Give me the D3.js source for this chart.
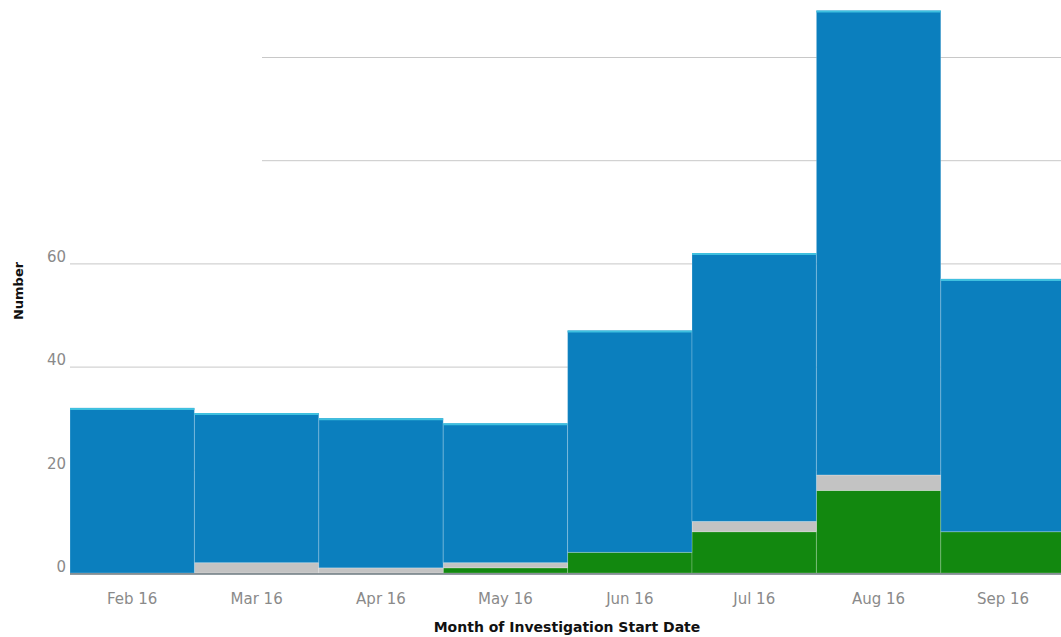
<!DOCTYPE html>
<html>
<head>
<meta charset="utf-8">
<script src="https://cdn.jsdelivr.net/npm/d3@7"></script>
<style>
  body { margin: 0; background: #fff; }
  svg { display: block; }
</style>
</head>
<body>
<script>
// data
const months = ["Feb 16", "Mar 16", "Apr 16", "May 16", "Jun 16", "Jul 16", "Aug 16", "Sep 16"];
const greenVals = [0, 0, 0, 1, 4, 8, 16, 8];
const grayVals = [0, 2, 1, 1, 0, 2, 3, 0];
const blueVals = [32, 29, 29, 27, 43, 52, 90, 49];
const yTicks = [0, 20, 40, 60, 80, 100];

const width = 1061, height = 637;
const left = 70, zeroY = 573;

const rows = months.map((m, i) => ({ month: m, green: greenVals[i], gray: grayVals[i], blue: blueVals[i] }));
const keys = ["green", "gray", "blue"];
const colors = { green: "#12880f", gray: "#c3c3c3", blue: "#0b7fbe" };

const svg = d3.select("body").append("svg")
  .attr("width", width)
  .attr("height", height);

const x = d3.scaleBand()
  .domain(months)
  .range([left, left + 124.4 * months.length])
  .padding(0);

const y = d3.scaleLinear()
  .domain([0, 100])
  .range([zeroY, 57]);

// gridlines + y labels
const yAxis = svg.append("g")
  .attr("transform", `translate(${left},0)`)
  .call(d3.axisLeft(y).tickValues(yTicks).tickSize(-(width - left)).tickPadding(4));
yAxis.select(".domain").remove();
yAxis.selectAll(".tick line").attr("stroke", "#c8c8c8");
yAxis.selectAll(".tick text")
  .attr("dy", "-0.12em")
  .attr("fill", "#8a8a8a")
  .style("font-family", "DejaVu Sans, Verdana, sans-serif")
  .style("font-size", "15px");

// blank area top-left (legend area in the original)
svg.append("rect")
  .attr("x", 0).attr("y", 0)
  .attr("width", 262).attr("height", 215)
  .attr("fill", "#fff");

// Bars
const series = d3.stack().keys(keys)(rows);

svg.append("g").selectAll("g")
  .data(series)
  .enter()
  .append("g")
  .attr("fill", d => colors[d.key])
  .selectAll("rect")
  .data(d => d.filter(p => p[1] > p[0]))
  .enter()
  .append("rect")
  .attr("x", d => x(d.data.month))
  .attr("y", d => y(d[1]))
  .attr("width", x.bandwidth())
  .attr("height", d => y(d[0]) - y(d[1]))
  .attr("stroke", "rgba(255,255,255,0.22)")
  .attr("stroke-width", 1);

// cyan top edge on each bar
svg.append("g").selectAll("line")
  .data(rows)
  .enter()
  .append("line")
  .attr("x1", d => x(d.month))
  .attr("x2", d => x(d.month) + x.bandwidth())
  .attr("y1", d => y(d.green + d.gray + d.blue) + 1)
  .attr("y2", d => y(d.green + d.gray + d.blue) + 1)
  .attr("stroke", "#3fc0df")
  .attr("stroke-width", 2);

// baseline
svg.append("line")
  .attr("x1", left).attr("x2", width)
  .attr("y1", zeroY + 1).attr("y2", zeroY + 1)
  .attr("stroke", "#6d7a80")
  .attr("stroke-width", 1.5);

// x labels
const xAxis = svg.append("g")
  .attr("transform", `translate(0,${zeroY + 2})`)
  .call(d3.axisBottom(x).tickSize(0).tickPadding(18));
xAxis.select(".domain").remove();
xAxis.selectAll(".tick text")
  .attr("fill", "#8a8a8a")
  .style("font-family", "DejaVu Sans, Verdana, sans-serif")
  .style("font-size", "15px");

// axis titles
svg.append("text")
  .attr("x", 567)
  .attr("y", 632)
  .attr("text-anchor", "middle")
  .style("font-family", "DejaVu Sans, Verdana, sans-serif")
  .style("font-weight", "bold")
  .style("font-size", "14px")
  .attr("fill", "#111")
  .text("Month of Investigation Start Date");

svg.append("text")
  .attr("transform", "translate(23,291) rotate(-90)")
  .attr("text-anchor", "middle")
  .style("font-family", "DejaVu Sans, Verdana, sans-serif")
  .style("font-weight", "bold")
  .style("font-size", "13px")
  .attr("fill", "#111")
  .text("Number");
</script>
</body>
</html>
